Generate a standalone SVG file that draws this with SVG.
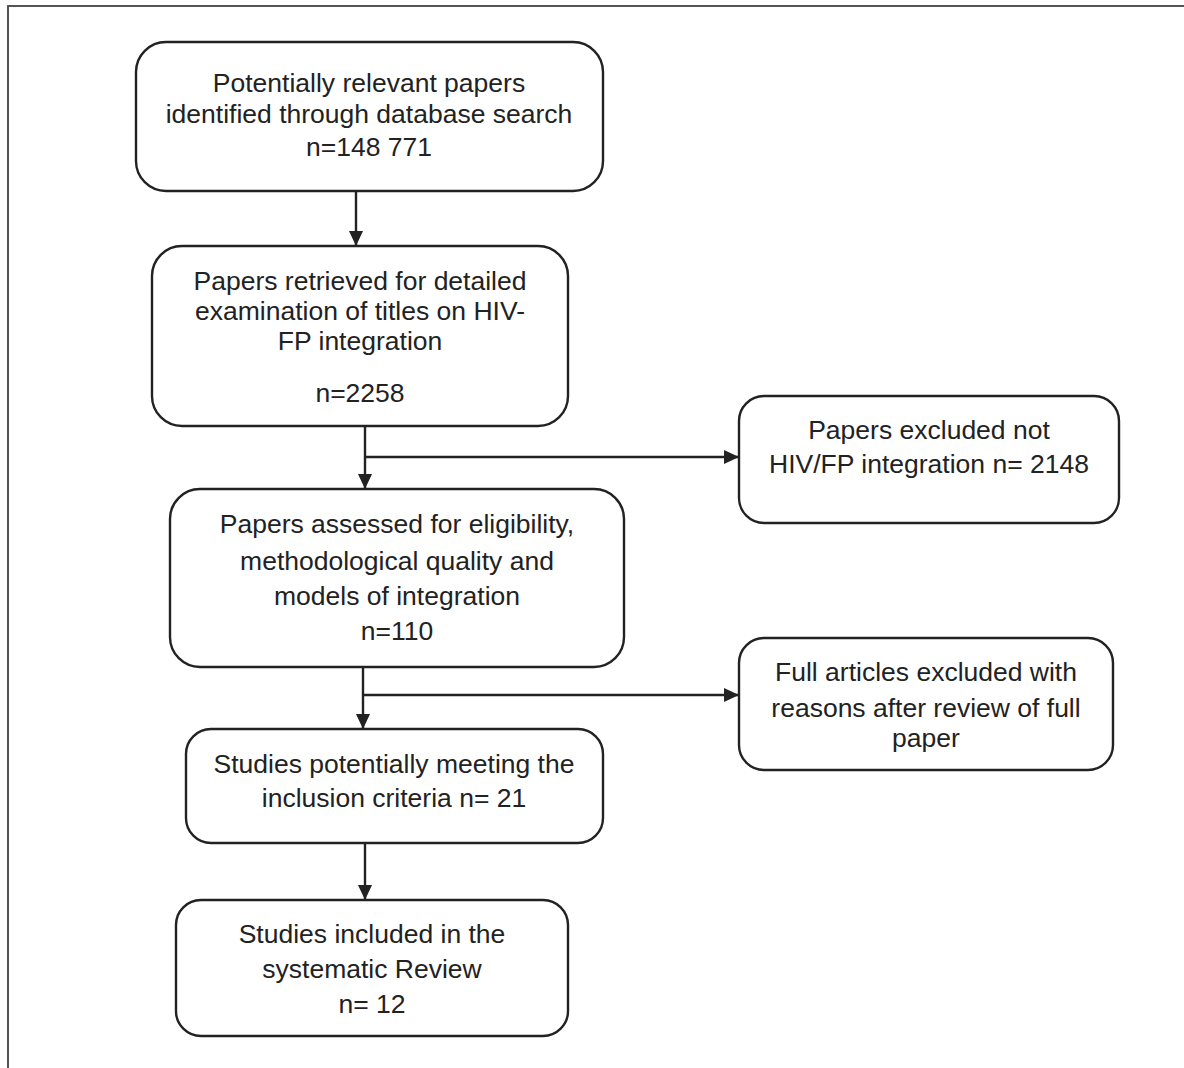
<svg xmlns="http://www.w3.org/2000/svg" width="1184" height="1068" viewBox="0 0 1184 1068">
<style>
.box{fill:#fff;stroke:#222;stroke-width:2.4}
.t{font-family:"Liberation Sans",Arial,sans-serif;font-size:26.5px;fill:#222;text-anchor:middle}
.c{fill:none;stroke:#222;stroke-width:2.4}
</style>
<defs>
<marker id="ah" viewBox="0 0 15 14" refX="15" refY="7" markerWidth="15" markerHeight="14" markerUnits="userSpaceOnUse" orient="auto">
<path d="M0,0 L15,7 L0,14 z" fill="#222"/>
</marker>
</defs>
<rect width="1184" height="1068" fill="#fff"/>
<rect x="8" y="6" width="1200" height="1100" fill="none" stroke="#444" stroke-width="1.8"/>
<g id="connectors">
<path class="c" d="M356,191 V246" marker-end="url(#ah)"/>
<path class="c" d="M365,426 V489" marker-end="url(#ah)"/>
<path class="c" d="M365,457 H739" marker-end="url(#ah)"/>
<path class="c" d="M363,667 V729" marker-end="url(#ah)"/>
<path class="c" d="M363,695 H739" marker-end="url(#ah)"/>
<path class="c" d="M365,843 V900" marker-end="url(#ah)"/>
</g>
<g id="n1">
<rect class="box" x="136" y="42" width="467" height="149" rx="30"/>
<text class="t" x="369" y="92">Potentially relevant papers</text>
<text class="t" x="369" y="123">identified through database search</text>
<text class="t" x="369" y="156">n=148 771</text>
</g>
<g id="n2">
<rect class="box" x="152" y="246" width="416" height="180" rx="30"/>
<text class="t" x="360" y="290">Papers retrieved for detailed</text>
<text class="t" x="360" y="320">examination of titles on HIV-</text>
<text class="t" x="360" y="350">FP integration</text>
<text class="t" x="360" y="402">n=2258</text>
</g>
<g id="n3">
<rect class="box" x="739" y="396" width="380" height="127" rx="25"/>
<text class="t" x="929" y="439">Papers excluded not</text>
<text class="t" x="929" y="473">HIV/FP integration n= 2148</text>
</g>
<g id="n4">
<rect class="box" x="170" y="489" width="454" height="178" rx="30"/>
<text class="t" x="397" y="533">Papers assessed for eligibility,</text>
<text class="t" x="397" y="570">methodological quality and</text>
<text class="t" x="397" y="605">models of integration</text>
<text class="t" x="397" y="640">n=110</text>
</g>
<g id="n5">
<rect class="box" x="739" y="638" width="374" height="132" rx="25"/>
<text class="t" x="926" y="681">Full articles excluded with</text>
<text class="t" x="926" y="717">reasons after review of full</text>
<text class="t" x="926" y="747">paper</text>
</g>
<g id="n6">
<rect class="box" x="186" y="729" width="417" height="114" rx="25"/>
<text class="t" x="394" y="773">Studies potentially meeting the</text>
<text class="t" x="394" y="807">inclusion criteria n= 21</text>
</g>
<g id="n7">
<rect class="box" x="176" y="900" width="392" height="136" rx="25"/>
<text class="t" x="372" y="943">Studies included in the</text>
<text class="t" x="372" y="978">systematic Review</text>
<text class="t" x="372" y="1013">n= 12</text>
</g>
</svg>
